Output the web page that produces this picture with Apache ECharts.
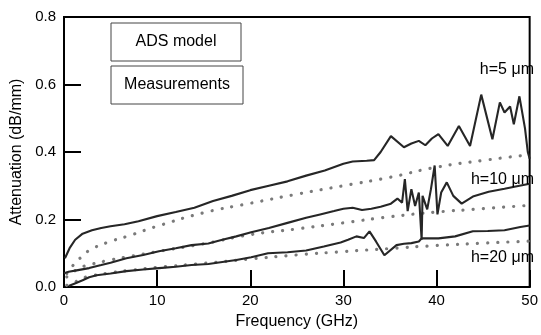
<!DOCTYPE html>
<html>
<head>
<meta charset="utf-8">
<script src="https://cdn.jsdelivr.net/npm/echarts@6/dist/echarts.min.js"></script>
<style>html,body{margin:0;padding:0;background:#fff;}#c{width:541px;height:335px;}</style>
</head>
<body>
<div id="c"></div>
<script>
// Measured h=5 um
var meas5Freq = [0.1,0.6,1.2,2,3,4,5,6.5,8,10,12,14,16,18,20,22,24,26,28,30,31,32.5,33.3,34,35.1,36.5,37.3,38.1,38.8,39.5,40.2,41.2,42.4,43.6,44.8,46,46.8,47.3,47.9,48.3,48.9,49.5,49.8,50];
var meas5Att  = [0.085,0.115,0.14,0.158,0.168,0.175,0.18,0.186,0.195,0.21,0.222,0.235,0.255,0.27,0.287,0.3,0.313,0.33,0.345,0.365,0.372,0.374,0.376,0.4,0.447,0.414,0.425,0.433,0.42,0.44,0.453,0.418,0.477,0.418,0.57,0.438,0.547,0.517,0.535,0.482,0.565,0.47,0.4,0.38];
// Measured h=10 um
var meas10Freq = [0,0.5,1.5,2.7,4,5,6.7,8.5,10.2,12,13.7,15.5,17,18.5,20.1,22,24,26,27.5,29,30,31,32,33,34,35.1,35.8,36.3,36.6,36.9,37.3,37.7,38.1,38.4,38.5,39,39.4,39.8,40.1,40.5,41.1,41.8,42.7,43.9,45.6,47.3,48.5,50];
var meas10Att  = [0.041,0.045,0.05,0.056,0.065,0.072,0.085,0.095,0.106,0.115,0.124,0.129,0.14,0.15,0.162,0.175,0.19,0.205,0.215,0.225,0.232,0.235,0.228,0.232,0.238,0.247,0.262,0.25,0.32,0.225,0.29,0.24,0.28,0.14,0.27,0.23,0.29,0.36,0.215,0.28,0.31,0.27,0.247,0.268,0.282,0.291,0.298,0.306];
// Measured h=20 um
var meas20Freq = [0.5,1.3,2,2.7,3.5,5,6.7,8.5,10.2,12,13.7,15.5,17,18.5,20.1,21.9,24,26,27.9,29.7,30.5,31.4,32.2,32.8,33.5,34.4,35.7,36.5,37.3,38.1,38.4,39,40.2,42,43.9,45.5,47.3,49,50];
var meas20Att  = [0.003,0.012,0.02,0.029,0.035,0.04,0.047,0.052,0.056,0.06,0.065,0.068,0.074,0.08,0.088,0.1,0.103,0.108,0.12,0.132,0.14,0.15,0.145,0.165,0.135,0.094,0.124,0.128,0.13,0.135,0.144,0.144,0.144,0.15,0.165,0.166,0.168,0.178,0.182];
// ADS model curves
var modelFreq = [0.3,1,2,3,5,7,10,15,20,25,30,35,40,45,50];
var model5Att  = [0.04,0.065,0.092,0.113,0.135,0.152,0.18,0.22,0.248,0.275,0.3,0.325,0.355,0.375,0.392];
var model10Att = [0.03,0.045,0.06,0.068,0.08,0.09,0.105,0.128,0.155,0.172,0.19,0.208,0.222,0.232,0.242];
var model20Att = [0.005,0.012,0.026,0.033,0.042,0.049,0.058,0.07,0.083,0.095,0.105,0.114,0.123,0.13,0.136];
var xTicks = [0,10,20,30,40,50];
var yTicks = [0.0,0.2,0.4,0.6,0.8];

function pairs(fx, vy){ return fx.map(function(f,i){ return [f, vy[i]]; }); }

var FONT = '"Liberation Sans", Arial, sans-serif';
var measStyle = {color:'#262626', width:2.1};
var modelStyle = {color:'#7a7a7a', width:3.2, type:[0.1,10], cap:'round'};

function label(txt, x, y, align){
  return {type:'text', z:101, style:{text:txt, x:x, y:y, align:align, verticalAlign:'middle', font:'16px '+FONT, fill:'#000'}};
}

var chart = echarts.init(document.getElementById('c'), null, {renderer:'canvas'});
chart.setOption({
  animation:false,
  backgroundColor:'#fff',
  grid:{left:64, right:6, top:17, bottom:46, show:true, borderColor:'#000', borderWidth:2, backgroundColor:'transparent'},
  xAxis:{
    type:'value', min:xTicks[0], max:xTicks[xTicks.length-1], interval:10,
    name:'Frequency (GHz)', nameLocation:'middle', nameGap:27,
    nameTextStyle:{fontFamily:FONT, fontSize:16, color:'#000'},
    axisLine:{lineStyle:{color:'#000', width:2}},
    axisTick:{inside:true, length:17, lineStyle:{color:'#000', width:2}},
    axisLabel:{fontFamily:FONT, fontSize:15, color:'#000', margin:6},
    splitLine:{show:false}
  },
  yAxis:{
    type:'value', min:yTicks[0], max:yTicks[yTicks.length-1], interval:0.2,
    name:'Attenuation (dB/mm)', nameLocation:'middle', nameGap:38,
    nameTextStyle:{fontFamily:FONT, fontSize:16, color:'#000'},
    axisLine:{show:true, lineStyle:{color:'#000', width:2}},
    axisTick:{show:true, inside:true, length:17, lineStyle:{color:'#000', width:2}},
    axisLabel:{fontFamily:FONT, fontSize:15, color:'#000', margin:8, formatter:function(v){return v.toFixed(1);}},
    splitLine:{show:false}
  },
  graphic:[
    {type:'rect', z:100, shape:{x:111, y:23, width:130, height:38}, style:{fill:'#fff', stroke:'#444', lineWidth:1}},
    label('ADS model', 176, 42, 'center'),
    {type:'rect', z:100, shape:{x:111, y:66, width:132, height:38}, style:{fill:'#fff', stroke:'#444', lineWidth:1}},
    label('Measurements', 177, 85, 'center'),
    label('h=5 μm', 534, 70, 'right'),
    label('h=10 μm', 534, 180, 'right'),
    label('h=20 μm', 534, 258, 'right')
  ],
  series:[
    {type:'line', data:pairs(modelFreq, model5Att), showSymbol:false, smooth:true, lineStyle:modelStyle},
    {type:'line', data:pairs(modelFreq, model10Att), showSymbol:false, smooth:true, lineStyle:modelStyle},
    {type:'line', data:pairs(modelFreq, model20Att), showSymbol:false, smooth:true, lineStyle:modelStyle},
    {type:'line', data:pairs(meas5Freq, meas5Att), showSymbol:false, lineStyle:measStyle},
    {type:'line', data:pairs(meas10Freq, meas10Att), showSymbol:false, lineStyle:measStyle},
    {type:'line', data:pairs(meas20Freq, meas20Att), showSymbol:false, lineStyle:measStyle}
  ]
});
</script>
</body>
</html>
